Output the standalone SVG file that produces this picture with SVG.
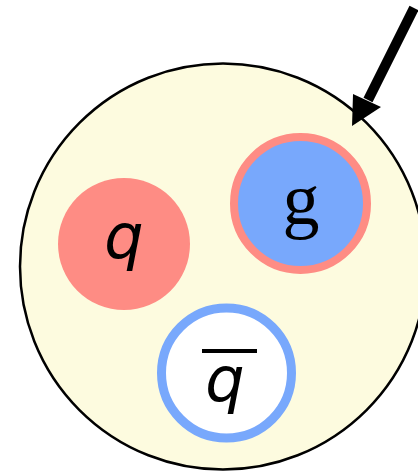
<svg xmlns="http://www.w3.org/2000/svg" width="418" height="473" viewBox="0 0 418 473">
<style>
.lbl{font-family:"DejaVu Sans","Liberation Sans",sans-serif;fill:#000;text-anchor:middle}
.it{font-style:italic}
.serif{font-family:"Liberation Serif","DejaVu Serif",serif}
</style>
<rect width="418" height="473" fill="#fff"/>
<g id="hadron">
<circle cx="223" cy="266.5" r="203" fill="#FDFBDF" stroke="#000" stroke-width="2.5"/>
</g>
<g id="quark">
<circle cx="124" cy="244" r="66" fill="#FE8C84"/>
<text class="lbl it" x="124" y="258" font-size="62">q</text>
</g>
<g id="gluon">
<circle cx="300.5" cy="203.5" r="66.5" fill="#78A8FC" stroke="#FE8C84" stroke-width="8"/>
<text class="lbl serif" x="301" y="224" font-size="74">g</text>
</g>
<g id="antiquark">
<circle cx="226.5" cy="373" r="65" fill="#fff" stroke="#78A8FC" stroke-width="9"/>
<line x1="202" y1="351" x2="257" y2="351" stroke="#000" stroke-width="4"/>
<text class="lbl it" x="225" y="401" font-size="62">q</text>
</g>
<g id="connectors">
<line x1="414" y1="8" x2="368" y2="100" stroke="#000" stroke-width="10"/>
<polygon points="352,126 353,94 381,107" fill="#000"/>
</g>
</svg>
